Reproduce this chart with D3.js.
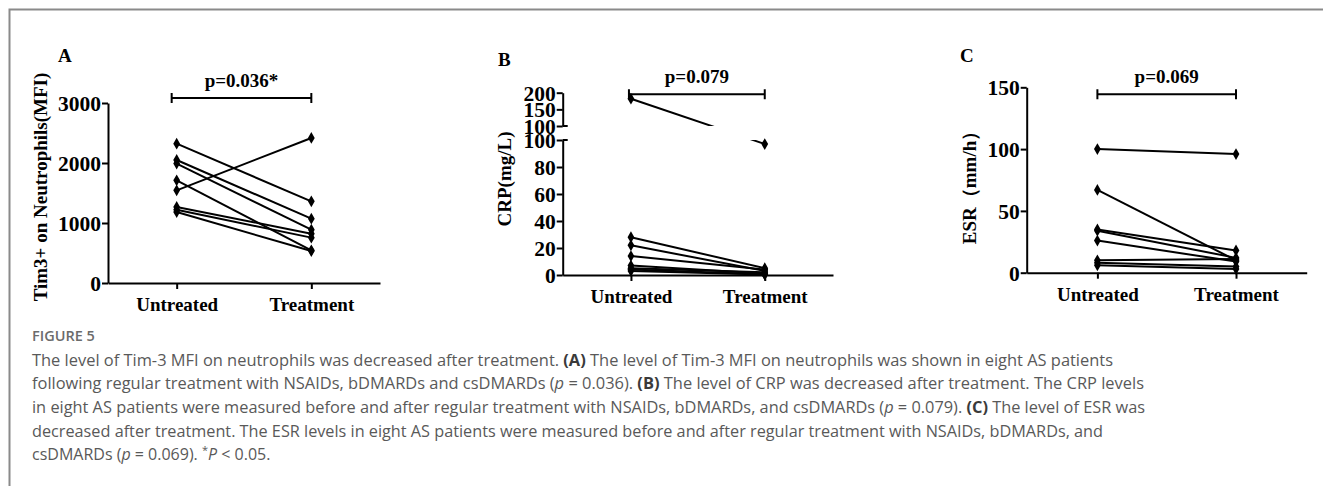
<!DOCTYPE html>
<html>
<head>
<meta charset="utf-8">
<script src="https://cdn.jsdelivr.net/npm/d3@7"></script>
<style>
  body { margin: 0; background: #fff; }
  svg { display: block; }
  .ax text { font-family: "Liberation Serif", "Times New Roman", serif; font-weight: bold; font-size: 19px; fill: #000; }
  .ax.yax text { font-size: 21.5px; }
  .ax path, .ax line { stroke: #000; stroke-width: 2; }
  .lbl { font-family: "Liberation Serif", "Times New Roman", serif; font-weight: bold; font-size: 19px; fill: #000; }
  .cap { font-family: "Open Sans", "Lato", sans-serif; font-size: 16px; fill: #595959; }
</style>
</head>
<body>
<script>
const w = 1323;
const h = 486;

// data
const categories = ["Untreated", "Treatment"];

const tim3Untreated = [2322, 2050, 1990, 1711, 1544, 1267, 1222, 1183];
const tim3Treatment = [1361, 1072, 889, 544, 2417, 822, 756, 533];
const tim3Ticks = [0, 1000, 2000, 3000];

const crpUntreated = [182, 28, 22, 14, 7, 5, 4, 3];
const crpTreatment = [97, 5, 3, 4, 1, 2, 0.5, 0.3];
const crpLowTicks = [0, 20, 40, 60, 80, 100];
const crpHighTicks = [100, 150, 200];

const esrUntreated = [100, 67, 35, 34, 26, 10, 8, 6];
const esrTreatment = [96, 10, 18, 12, 9, 11, 5, 3];
const esrTicks = [0, 50, 100, 150];

const pLabels = ["p=0.036*", "p=0.079", "p=0.069"];
const panelLetters = ["A", "B", "C"];
const yTitles = ["Tim3+ on Neutrophils(MFI)", "CRP(mg/L)", "ESR\uFF08mm/h\uFF09"];

const svg = d3.select("body").append("svg").attr("width", w).attr("height", h);

// frame
svg.append("path")
  .attr("d", "M9.5,492 V9.5 H1330")
  .attr("fill", "none").attr("stroke", "#8a8a8a").attr("stroke-width", 2);

function pairs(a, b) {
  return a.map((v, i) => [v, b[i]]);
}

function drawPanel(p) {
  const g = svg.append("g");
  const x = d3.scalePoint().domain(categories).range([p.x0, p.x1]).padding(0.51);

  // x axis
  g.append("g").attr("class", "ax")
    .attr("transform", `translate(0,${p.yBase})`)
    .call(d3.axisBottom(x).tickSize(6).tickSizeOuter(0).tickPadding(4))
    .selectAll("text").attr("dy", "0.95em");

  // y axis (one or two segments)
  p.axes.forEach(a => {
    g.append("g").attr("class", "ax yax")
      .attr("transform", `translate(${p.x0},0)`)
      .call(d3.axisLeft(a.scale).tickValues(a.ticks).tickFormat(d3.format("d"))
        .tickSize(6).tickSizeOuter(0).tickPadding(1))
      .selectAll("text").attr("dy", "0.34em");
  });

  const yOf = p.yOf;
  const lineG = g.append("g");
  if (p.clip) lineG.attr("clip-path", `url(#${p.clip})`);
  lineG.selectAll("line.pair")
    .data(pairs(p.before, p.after))
    .join("line")
    .attr("x1", x(categories[0])).attr("y1", d => yOf(d[0]))
    .attr("x2", x(categories[1])).attr("y2", d => yOf(d[1]))
    .attr("stroke", "#000").attr("stroke-width", 2);

  const sym = d3.symbol().type(d3.symbolDiamond).size(40);
  [p.before, p.after].forEach((vals, k) => {
    g.selectAll(null).data(vals).join("path")
      .attr("d", sym)
      .attr("transform", d => `translate(${x(categories[k])},${yOf(d)})`)
      .attr("fill", "#000");
  });

  // significance bracket
  const bx0 = x(categories[0]) + p.brOff, bx1 = x(categories[1]);
  g.append("path")
    .attr("d", `M${bx0},${p.brY - 5}V${p.brY + 5}M${bx0},${p.brY}H${bx1}M${bx1},${p.brY - 5}V${p.brY + 5}`)
    .attr("stroke", "#000").attr("stroke-width", 2).attr("fill", "none");
  g.append("text").attr("class", "lbl")
    .attr("x", (bx0 + bx1) / 2).attr("y", p.brY - 11)
    .attr("text-anchor", "middle").text(p.pLabel);

  g.append("text").attr("class", "lbl")
    .attr("x", p.letterX).attr("y", p.letterY).text(p.letter);

  g.append("text").attr("class", "lbl")
    .attr("transform", `translate(${p.titleX},${p.titleY}) rotate(-90)`)
    .attr("text-anchor", "middle").text(p.title);
}

// panel A
const yA = d3.scaleLinear().domain([0, 3000]).range([283, 103]);
drawPanel({
  x0: 108, x1: 380, yBase: 283,
  axes: [{ scale: yA, ticks: tim3Ticks }],
  yOf: yA, before: tim3Untreated, after: tim3Treatment,
  brY: 98, brOff: -5, pLabel: pLabels[0],
  letter: panelLetters[0], letterX: 58, letterY: 62,
  title: yTitles[0], titleX: 47, titleY: 187
});

// panel B, broken axis
const yBLow = d3.scaleLinear().domain([0, 100]).range([275, 140]);
const yBHigh = d3.scaleLinear().domain([100, 200]).range([126, 92.7]);
const defs = svg.append("defs");
const cp = defs.append("clipPath").attr("id", "brk");
cp.append("rect").attr("x", 540).attr("y", 60).attr("width", 320).attr("height", 126 - 60);
cp.append("rect").attr("x", 540).attr("y", 140).attr("width", 320).attr("height", 160);
drawPanel({
  x0: 562.7, x1: 833, yBase: 275,
  axes: [{ scale: yBLow, ticks: crpLowTicks }, { scale: yBHigh, ticks: crpHighTicks }],
  yOf: v => v > 100 ? yBHigh(v) : yBLow(v),
  before: crpUntreated, after: crpTreatment, clip: "brk",
  brY: 94.3, brOff: -2, pLabel: pLabels[1],
  letter: panelLetters[1], letterX: 498, letterY: 66,
  title: yTitles[1], titleX: 511, titleY: 179
});
// little break caps to the right of the axis
svg.append("path")
  .attr("d", `M562.7,${yBHigh(100)}h5M562.7,${yBLow(100)}h5`)
  .attr("stroke", "#000").attr("stroke-width", 2);

// panel C
const yC = d3.scaleLinear().domain([0, 150]).range([272.7, 87.3]);
drawPanel({
  x0: 1026.7, x1: 1306.7, yBase: 272.7,
  axes: [{ scale: yC, ticks: esrTicks }],
  yOf: yC, before: esrUntreated, after: esrTreatment,
  brY: 94.3, brOff: 0, pLabel: pLabels[2],
  letter: panelLetters[2], letterX: 960, letterY: 62,
  title: yTitles[2], titleX: 976, titleY: 183
});

// caption
svg.append("text").attr("class", "cap")
  .attr("x", 32).attr("y", 340.5)
  .style("font-size", "14.5px").style("font-weight", 600).style("fill", "#6b6b6b")
  .text("FIGURE 5");

const capLines = [
  [["The level of Tim-3 MFI on neutrophils was decreased after treatment. "], ["(A)", "b"], [" The level of Tim-3 MFI on neutrophils was shown in eight AS patients"]],
  [["following regular treatment with NSAIDs, bDMARDs and csDMARDs ("], ["p", "i"], [" = 0.036). "], ["(B)", "b"], [" The level of CRP was decreased after treatment. The CRP levels"]],
  [["in eight AS patients were measured before and after regular treatment with NSAIDs, bDMARDs, and csDMARDs ("], ["p", "i"], [" = 0.079). "], ["(C)", "b"], [" The level of ESR was"]],
  [["decreased after treatment. The ESR levels in eight AS patients were measured before and after regular treatment with NSAIDs, bDMARDs, and"]],
  [["csDMARDs ("], ["p", "i"], [" = 0.069). "], ["*", "s"], ["P", "iP"], [" < 0.05."]]
];
const capWidths = [1081, 1112, 1113, 1071, null];

capLines.forEach((parts, i) => {
  const t = svg.append("text").attr("class", "cap")
    .attr("x", 32).attr("y", 365.5 + i * 23.7);
  parts.forEach(([s, k]) => {
    const ts = t.append("tspan").text(s);
    if (k === "b") ts.style("font-weight", 700).style("fill", "#3a3a3a");
    if (k === "i" || k === "iP") ts.style("font-style", "italic");
    if (k === "s") ts.attr("dy", -6).style("font-size", "11px");
    if (k === "iP") ts.attr("dy", 6);
  });
  if (capWidths[i]) t.attr("textLength", capWidths[i]).attr("lengthAdjust", "spacingAndGlyphs");
});
</script>
</body>
</html>
